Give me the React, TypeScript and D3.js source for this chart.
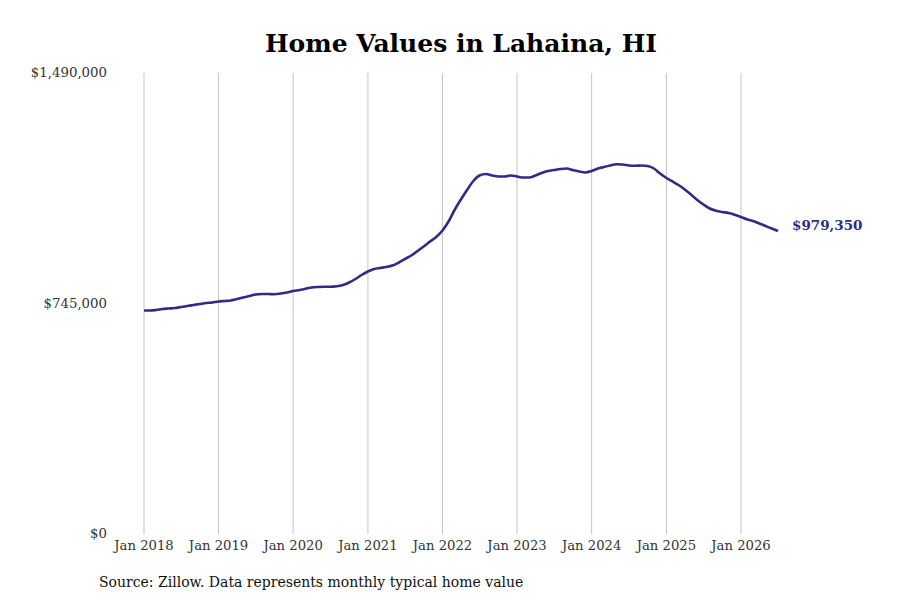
import React from "react";
import * as d3 from "d3";

const startYear = 2018;
const values: number[] = [
  722.4, 722.4, 724.0, 727.2, 728.8, 730.5, 733.7, 736.9, 740.2, 743.4, 746.6, 748.2,
  751.5, 753.1, 754.7, 759.5, 764.4, 769.2, 774.1, 775.7, 775.7, 775.1, 777.3, 780.5,
  785.4, 788.6, 792.5, 796.7, 798.3, 799.0, 799.0, 800.6, 804.8, 812.9, 824.2, 837.1,
  848.4, 856.5, 859.7, 863.0, 867.8, 877.5, 888.8, 900.1, 914.7, 929.2, 945.4, 959.9,
  980.9, 1011.6, 1047.2, 1081.1, 1111.8, 1140.9, 1158.7, 1163.6, 1158.7, 1155.5, 1155.5, 1158.7,
  1155.5, 1152.2, 1152.2, 1158.7, 1166.8, 1173.2, 1176.5, 1179.7, 1181.3, 1176.5, 1171.6, 1168.4,
  1173.2, 1181.3, 1186.2, 1191.0, 1194.9, 1194.3, 1191.0, 1190.1, 1191.0, 1189.4, 1181.3, 1165.2,
  1150.6, 1139.3, 1128.0, 1113.5, 1097.3, 1079.5, 1065.0, 1052.0, 1044.6, 1040.7, 1037.5, 1031.7,
  1024.6, 1016.5, 1011.6, 1003.6, 995.5, 987.4, 979.35,
].map((v) => v * 1000);

const tickYears = [2018, 2019, 2020, 2021, 2022, 2023, 2024, 2025, 2026];
const yTicks = [0, 745000, 1490000];
const endLabel = "$979,350";
const title = "Home Values in Lahaina, HI";
const source = "Source: Zillow. Data represents monthly typical home value";

const data = values.map((v, i) => ({ date: new Date(startYear, i, 1), value: v }));

export default function App() {
  const W = 900, H = 600;
  const left = 144, right = 741, top = 73, bottom = 534;
  const x = d3.scaleTime().domain([new Date(2018, 0, 1), new Date(2026, 0, 1)]).range([left, right]);
  const y = d3.scaleLinear().domain([0, 1490000]).range([bottom, top]);
  const line = d3
    .line<{ date: Date; value: number }>()
    .x((d) => x(d.date))
    .y((d) => y(d.value))
    .curve(d3.curveMonotoneX);
  const fmt = (v: number) => "$" + d3.format(",")(v);
  const last = data[data.length - 1];
  const font = "'DejaVu Serif', serif";
  return (
    <svg width={W} height={H} style={{ position: "absolute", left: 0, top: 0, background: "#fff" }}>
      <text x={461} y={52} textAnchor="middle" fontFamily={font} fontWeight="bold" fontSize={25} fill="#000">
        {title}
      </text>
      {tickYears.map((yr) => {
        const xx = x(new Date(yr, 0, 1));
        return (
          <g key={yr}>
            <line x1={xx} x2={xx} y1={top} y2={bottom} stroke="#c4c4c4" strokeWidth={1} />
            <text x={xx} y={550} textAnchor="middle" fontFamily={font} fontSize={13.2} fill="#333">
              {"Jan " + yr}
            </text>
          </g>
        );
      })}
      {yTicks.map((t) => (
        <text key={t} x={107} y={y(t)} dy="0.32em" textAnchor="end" fontFamily={font} fontSize={13.3} fill="#333">
          {fmt(t)}
        </text>
      ))}
      <path d={line(data) || ""} fill="none" stroke="#2e2c86" strokeWidth={2.6} />
      <text x={792} y={y(last.value) - 5} dy="0.32em" fontFamily={font} fontWeight="bold" fontSize={13.5} fill="#2e2c86">
        {endLabel}
      </text>
      <text x={99} y={587} fontFamily={font} fontSize={14} fill="#111">
        {source}
      </text>
    </svg>
  );
}
